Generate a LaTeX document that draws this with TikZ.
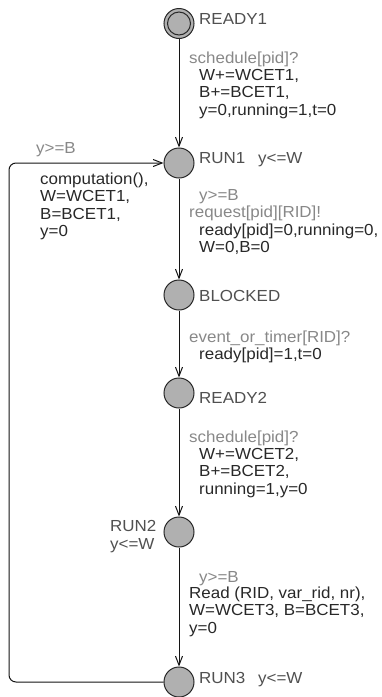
\documentclass[tikz,border=0pt]{standalone}
\usepackage{fontspec}
\setmainfont{Liberation Sans}[FakeStretch=1.06]
\usetikzlibrary{arrows.meta}
\definecolor{locfill}{RGB}{176,176,176}
\definecolor{locline}{RGB}{40,40,40}
\definecolor{namecol}{RGB}{80,80,80}
\definecolor{guardcol}{RGB}{136,136,136}
\definecolor{updcol}{RGB}{40,40,40}
\definecolor{edgecol}{RGB}{20,20,20}
\newcommand{\mlines}[1]{\begin{tabular}[t]{@{}l@{}}#1\end{tabular}}
\tikzset{
  loc/.style={circle, draw=locline, fill=locfill, line width=1pt, minimum size=30pt, inner sep=0pt},
  txt/.style={anchor=base west, inner sep=0pt, font=\fontsize{16}{17.5}\selectfont},
  namelbl/.style={txt, text=namecol},
  guardlbl/.style={txt, text=guardcol},
  updlbl/.style={txt, text=updcol},
  edge/.style={draw=edgecol, line width=1pt, -{Straight Barb[length=9pt,width=7pt]}}
}
\begin{document}
\begin{tikzpicture}[x=1pt,y=-1pt]
\useasboundingbox (0,0) rectangle (382,697);
% locations
\node[loc] (READY1) at (179,23.5) {};
\draw[locline, line width=1pt] (READY1.center) circle (11.5);
\node[loc] (RUN1) at (179,163) {};
\node[loc] (BLOCKED) at (179,295) {};
\node[loc] (READY2) at (179,393) {};
\node[loc] (RUN2) at (179,532) {};
\node[loc] (RUN3) at (179,682) {};
% names and invariants
\node[namelbl] (nREADY1) at (199,24) {READY1};
\node[namelbl] (nRUN1) at (199,163) {RUN1};
\node[namelbl] (iRUN1) at (258,163) {y<=W};
\node[namelbl] (nBLOCKED) at (199,301) {BLOCKED};
\node[namelbl] (nREADY2) at (199,403) {READY2};
\node[namelbl] (nRUN2) at (110,531) {RUN2};
\node[namelbl] (iRUN2) at (110,549) {y<=W};
\node[namelbl] (nRUN3) at (199,683) {RUN3};
\node[namelbl] (iRUN3) at (258,683) {y<=W};
% edges
\draw[edge] (READY1) -- (RUN1);
\draw[edge] (RUN1) -- (BLOCKED);
\draw[edge] (BLOCKED) -- (READY2);
\draw[edge] (READY2) -- (RUN2);
\draw[edge] (RUN2) -- (RUN3);
\coordinate (loopx) at (9,420);
\draw[edge, rounded corners=7pt] (RUN3.west) -| (loopx) |- (RUN1.west);
% edge labels
\node[guardlbl] (s1) at (189,63) {schedule[pid]?};
\node[updlbl] (u1) at (199,80) {\mlines{W+=WCET1,\\B+=BCET1,\\y=0,running=1,t=0}};
\node[guardlbl] (gl) at (36,153) {y>=B};
\node[updlbl] (ul) at (40,184) {\mlines{computation(),\\W=WCET1,\\B=BCET1,\\y=0}};
\node[guardlbl] (g2) at (199,200.5) {y>=B};
\node[guardlbl] (s2) at (189,217.5) {request[pid][RID]!};
\node[updlbl] (u2) at (199,235) {\mlines{ready[pid]=0,running=0,\\W=0,B=0}};
\node[guardlbl] (s3) at (189,342) {event\_or\_timer[RID]?};
\node[updlbl] (u3) at (199,359) {ready[pid]=1,t=0};
\node[guardlbl] (s4) at (189,442) {schedule[pid]?};
\node[updlbl] (u4) at (199,459) {\mlines{W+=WCET2,\\B+=BCET2,\\running=1,y=0}};
\node[guardlbl] (g5) at (199,582) {y>=B};
\node[updlbl] (u5) at (189,598) {\mlines{Read (RID, var\_rid, nr),\\W=WCET3, B=BCET3,\\y=0}};
\end{tikzpicture}
\end{document}
